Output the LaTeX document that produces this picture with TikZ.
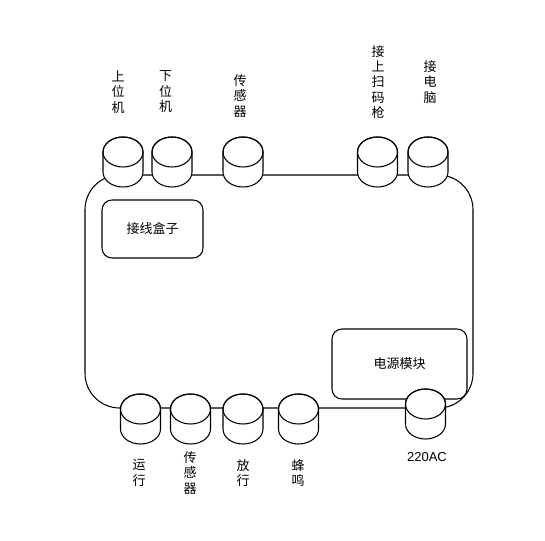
\documentclass[tikz,border=0pt]{standalone}
\usepackage{fontspec}
\setmainfont{Liberation Sans}
\newfontfamily\cjk{Noto Sans CJK SC}
\tikzset{
  port/.pic={
    \draw[thick, fill=white] (-15pt,7.5pt) -- (-15pt,-7.5pt)
      arc[start angle=180, end angle=360, x radius=15pt, y radius=11.25pt]
      -- (15pt,7.5pt)
      arc[start angle=0, end angle=180, x radius=15pt, y radius=11.25pt] -- cycle;
    \draw[thick] (0,7.5pt) ellipse [x radius=15pt, y radius=11.25pt];
    \coordinate (-c) at (0,0);
  },
  panel/.style={draw, thick, rounded corners=7.5pt},
  lbl/.style={font=\cjk\fontsize{9.75}{11.6}\selectfont, align=center, inner sep=0pt}
}
\begin{document}
\begin{tikzpicture}[x=0.75pt, y=-0.75pt]
\useasboundingbox (0,0) rectangle (545,541);
% housing
\draw[thick, rounded corners=26pt] (85,175) rectangle (473,408);
\node[panel, minimum width=75.75pt, minimum height=43.5pt, lbl, draw, thick] (box) at (152.5,229) {接线盒子};
\node[panel, minimum width=101.25pt, minimum height=52.5pt, lbl, draw, thick] (power) at (399.5,364) {电源模块};
% top ports
\pic (pc1) at (123,162) {port};
\pic (pc2) at (172,162) {port};
\pic (sen1) at (243,162) {port};
\pic (scan) at (377.5,162) {port};
\pic (comp) at (428,162) {port};
% bottom ports
\pic (run) at (140.5,419) {port};
\pic (sen2) at (190.5,419) {port};
\pic (pass) at (243,419) {port};
\pic (buzz) at (298.5,419) {port};
\pic (ac) at (425.5,414) {port};
% labels
\node[lbl] (l1) at (118,92) {上\\位\\机};
\node[lbl] (l2) at (165.5,92) {下\\位\\机};
\node[lbl] (l3) at (240,96) {传\\感\\器};
\node[lbl] (l4) at (378,82) {接\\上\\扫\\码\\枪};
\node[lbl] (l5) at (430,82) {接\\电\\脑};
\node[lbl] (l6) at (139,473) {运\\行};
\node[lbl] (l7) at (190,473) {传\\感\\器};
\node[lbl] (l8) at (243,473) {放\\行};
\node[lbl] (l9) at (298,473) {蜂\\鸣};
\node[font=\fontsize{9.75}{11.6}\selectfont, inner sep=0pt] (l10) at (427,457) {220AC};
\end{tikzpicture}
\end{document}
